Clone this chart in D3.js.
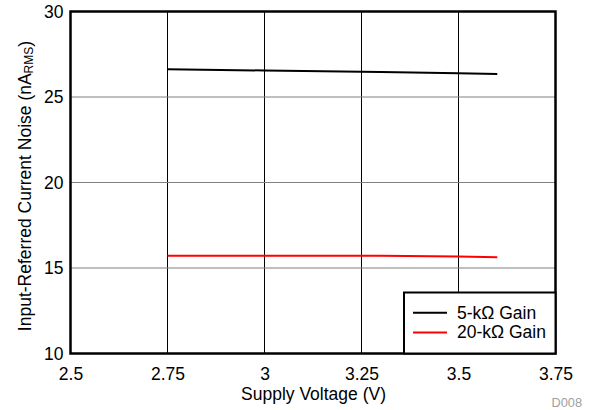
<!DOCTYPE html>
<html><head><meta charset="utf-8">
<script src="https://cdn.jsdelivr.net/npm/d3@7"></script>
<style>body{margin:0;background:#fff}svg{display:block;font-family:"Liberation Sans",Arial,sans-serif}</style>
</head><body><svg id="c" width="592" height="410"></svg>
<script>
const voltage = [2.75, 3.0, 3.25, 3.3, 3.5, 3.6];
const noise5k = [26.62, 26.55, 26.47, 26.46, 26.39, 26.35];
const noise20k = [15.72, 15.72, 15.72, 15.71, 15.67, 15.63];
const seriesNames = ["5-k\u03A9 Gain", "20-k\u03A9 Gain"];
const seriesColors = ["#000000", "#ff0000"];
const xTicks = [2.5, 2.75, 3, 3.25, 3.5, 3.75];
const yTicks = [10, 15, 20, 25, 30];

const FS = 17.5;
const svg = d3.select("#c");
const L = 70.5, R = 555.5, T = 11.5, B = 353.5;
const x = d3.scaleLinear().domain([2.5, 3.75]).range([L, R]);
const y = d3.scaleLinear().domain([10, 30]).range([B, T]);

// grid
svg.append("g").selectAll("line").data(xTicks.slice(1, -1)).join("line")
  .attr("x1", d => x(d)).attr("x2", d => x(d)).attr("y1", T).attr("y2", B)
  .attr("stroke", "#000").attr("stroke-width", 1);
svg.append("g").selectAll("line").data(yTicks.slice(1, -1)).join("line")
  .attr("x1", L).attr("x2", R).attr("y1", d => y(d)).attr("y2", d => y(d))
  .attr("stroke", "#808080").attr("stroke-width", 1);

// axes labels
const xAxis = d3.axisBottom(x).tickValues(xTicks).tickSize(0).tickPadding(14).tickFormat(d => d3.format("")(d));
const gx = svg.append("g").attr("transform", `translate(0,${B})`).call(xAxis);
gx.select(".domain").remove();
gx.selectAll("text").attr("font-size", FS).attr("fill", "#000").attr("font-family", "Liberation Sans, Arial, sans-serif");
const yAxis = d3.axisLeft(y).tickValues(yTicks).tickSize(0).tickPadding(7);
const gy = svg.append("g").attr("transform", `translate(${L},0)`).call(yAxis);
gy.select(".domain").remove();
gy.selectAll("text").attr("font-size", FS).attr("fill", "#000").attr("font-family", "Liberation Sans, Arial, sans-serif");

// lines
const seriesData = [noise5k, noise20k];
const line = d3.line().x((d, i) => x(voltage[i])).y(d => y(d));
seriesData.forEach((s, k) => {
  svg.append("path").datum(s).attr("d", line).attr("fill", "none")
    .attr("stroke", seriesColors[k]).attr("stroke-width", 2);
});

// frame
svg.append("rect").attr("x", L).attr("y", T).attr("width", R - L).attr("height", B - T)
  .attr("fill", "none").attr("stroke", "#000").attr("stroke-width", 2.5);

// legend
const lg = svg.append("g");
lg.append("rect").attr("x", 404).attr("y", 292.5).attr("width", R - 404).attr("height", B - 292.5)
  .attr("fill", "#fff").attr("stroke", "#000").attr("stroke-width", 2);
seriesNames.forEach((n, k) => {
  const yy = 312.7 + k * 19.7;
  lg.append("line").attr("x1", 413).attr("x2", 447).attr("y1", yy).attr("y2", yy)
    .attr("stroke", seriesColors[k]).attr("stroke-width", 2);
  lg.append("text").attr("x", 457).attr("y", yy + 6).attr("font-size", FS).text(n);
});

// titles
svg.append("text").attr("x", 313.5).attr("y", 399.5).attr("text-anchor", "middle")
  .attr("font-size", FS).text("Supply Voltage (V)");
const yt = svg.append("text").attr("transform", `translate(31,186) rotate(-90)`)
  .attr("text-anchor", "middle").attr("font-size", FS);
yt.append("tspan").text("Input-Referred Current Noise (nA");
yt.append("tspan").attr("font-size", 12).attr("dy", 2).text("RMS");
yt.append("tspan").attr("dy", -2).text(")");
svg.append("text").attr("x", 582).attr("y", 407).attr("text-anchor", "end")
  .attr("font-size", 12.8).attr("fill", "#a0a0a0").text("D008");
</script></body></html>
